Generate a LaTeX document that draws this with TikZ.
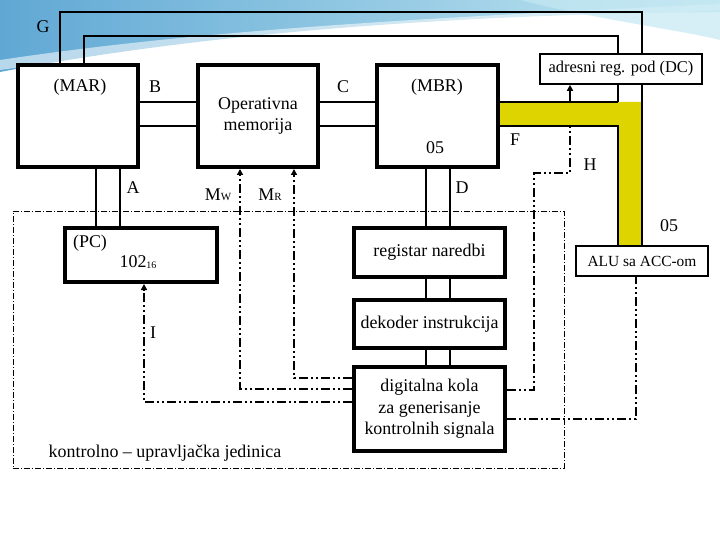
\documentclass[tikz,border=0pt]{standalone}
\usepackage{fontspec}
\setmainfont{Liberation Serif}
\usetikzlibrary{arrows.meta,calc}
\definecolor{busyellow}{RGB}{222,212,0}
\definecolor{bgblue}{RGB}{96,168,212}
\definecolor{bgcyan}{RGB}{196,232,242}
\begin{document}
\begin{tikzpicture}[x=1bp,y=-1bp,
  box/.style={draw,line width=4bp,fill=white,inner sep=0},
  thinbox/.style={draw,line width=1.6bp,fill=white,inner sep=0},
  bus/.style={line width=2.6bp},
  sig/.style={line width=2bp,dash pattern=on 9bp off 3bp on 2bp off 3bp on 2bp off 3bp},
  frame/.style={draw,line width=0.9bp,dash pattern=on 6bp off 2bp on 1bp off 2bp,inner sep=0},
  lbl/.style={font=\fontsize{18}{21}\selectfont,inner sep=0},
  arr/.style={-{Triangle[length=6bp,width=6bp]}}]
\useasboundingbox (0,0) rectangle (720,540);
% background wave
\shade[left color=bgblue,right color=bgcyan] (0,0) -- (720,0) -- (720,12)
  .. controls (480,14) and (220,30) .. (0,72) -- cycle;
\fill[white,opacity=0.55] (0,60) .. controls (200,30) and (420,18) .. (720,4)
  -- (720,10) .. controls (430,26) and (210,40) .. (0,70) -- cycle;
\fill[bgcyan,opacity=0.7] (520,0) .. controls (600,20) and (680,30) .. (720,40) -- (720,0) -- cycle;

% control unit frame
\node[frame,minimum width=551bp,minimum height=257bp] (cu) at (288.5,339.5) {};

% yellow bus
\fill[busyellow] (498,102) -- (642,102) -- (642,246) -- (618,246) -- (618,126) -- (498,126) -- cycle;

% main boxes
\node[box,minimum width=120bp,minimum height=102bp] (mar) at (78,116) {};
\node[box,minimum width=120bp,minimum height=102bp] (mem) at (258,116) {};
\node[box,minimum width=121bp,minimum height=102bp] (mbr) at (437.5,116) {};
\node[box,minimum width=152bp,minimum height=54bp] (pc) at (141,255) {};
\node[box,minimum width=151bp,minimum height=49bp] (reg) at (429.5,252.5) {};
\node[box,minimum width=151bp,minimum height=48bp] (dek) at (429.5,324) {};
\node[box,minimum width=151bp,minimum height=84bp] (dig) at (429.5,409) {};

% address bus lines (G)
\coordinate (gout) at (642,102);
\coordinate (gin) at (618,102);
\draw[bus] (mar.north -| 60,0) -- (60,12) -| (gout);
\draw[bus] (mar.north -| 84,0) -- (84,36) -| (gin);
\draw[bus] (mbr.east |- 0,102) -- (gin);
\draw[bus] (mbr.east |- 0,126) -- (618,126) -- (618,246);
\draw[bus] (gout) -- (642,246);

% DC and ALU boxes
\node[thinbox,minimum width=162bp,minimum height=30bp,font=\fontsize{16.5}{18}\selectfont] (dc) at (621,69) {adresni reg. pod (DC)};
\node[thinbox,minimum width=132bp,minimum height=30bp,font=\fontsize{15.5}{17}\selectfont] (alu) at (642,261) {ALU sa ACC-om};

% buses between boxes
\draw[bus] (mar.east |- 0,102) -- (mem.west |- 0,102);
\draw[bus] (mar.east |- 0,126) -- (mem.west |- 0,126);
\draw[bus] (mem.east |- 0,102) -- (mbr.west |- 0,102);
\draw[bus] (mem.east |- 0,126) -- (mbr.west |- 0,126);
\draw[bus] (mar.south -| 96,0) -- (pc.north -| 96,0);
\draw[bus] (mar.south -| 120,0) -- (pc.north -| 120,0);
\draw[bus] (mbr.south -| 426,0) -- (reg.north -| 426,0);
\draw[bus] (mbr.south -| 450,0) -- (reg.north -| 450,0);
\draw[bus] (reg.south -| 426,0) -- (dek.north -| 426,0);
\draw[bus] (reg.south -| 450,0) -- (dek.north -| 450,0);
\draw[bus] (dek.south -| 426,0) -- (dig.north -| 426,0);
\draw[bus] (dek.south -| 450,0) -- (dig.north -| 450,0);

% arrow from bus to DC
\coordinate (dcsrc) at (570,102);
\draw[line width=2bp,arr] (dcsrc) -- (dc.south -| dcsrc);

% control signals
\coordinate (hend) at (570,126);
\draw[sig,arr] (dig.west |- 0,402) -| (pc.south -| 144,0);
\draw[sig,arr] (dig.west |- 0,389) -| (mem.south -| 240,0);
\draw[sig,arr] (dig.west |- 0,378) -| (mem.south -| 294,0);
\draw[sig] (dig.east |- 0,390) -| (534,173) -| (hend);
\draw[sig] (dig.east |- 0,419) -| (alu.south -| 636,0);

% texts in boxes
\node[lbl] (marl) at (80,87) {(MAR)};
\node[lbl] (mbrl) at (437,87) {(MBR)};
\node[lbl] (mbrv) at (435,148) {05};
\node[lbl,align=center,font=\fontsize{18}{22}\selectfont] (meml) at (258,116) {Operativna\\memorija};
\node[lbl] (pcl) at (90,243) {(PC)};
\node[lbl] (pcv) at (138,262) {102{\fontsize{10}{10}\selectfont\raisebox{-1bp}{16}}};
\node[lbl] (regl) at (reg) {registar naredbi};
\node[lbl] (dekl) at (dek) {dekoder instrukcija};
\node[lbl,align=center,font=\fontsize{18}{21.5}\selectfont] (digl) at (dig) {digitalna kola\\za generisanje\\kontrolnih signala};

% labels
\node[lbl] (lg) at (43,27) {G};
\node[lbl] (lb) at (155,87) {B};
\node[lbl] (lc) at (343,87) {C};
\node[lbl] (lf) at (515,140) {F};
\node[lbl] (lh) at (590,165) {H};
\node[lbl] (la) at (133,188) {A};
\node[lbl] (ld) at (462,188) {D};
\node[lbl] (lmw) at (218,195) {M{\fontsize{11}{11}\selectfont W}};
\node[lbl] (lmr) at (270,195) {M{\fontsize{11}{11}\selectfont R}};
\node[lbl] (li) at (153,333) {I};
\node[lbl] (l05) at (669,226) {05};
\node[lbl] (lcu) at (165,453) {kontrolno -- upravljačka jedinica};
\end{tikzpicture}
\end{document}
